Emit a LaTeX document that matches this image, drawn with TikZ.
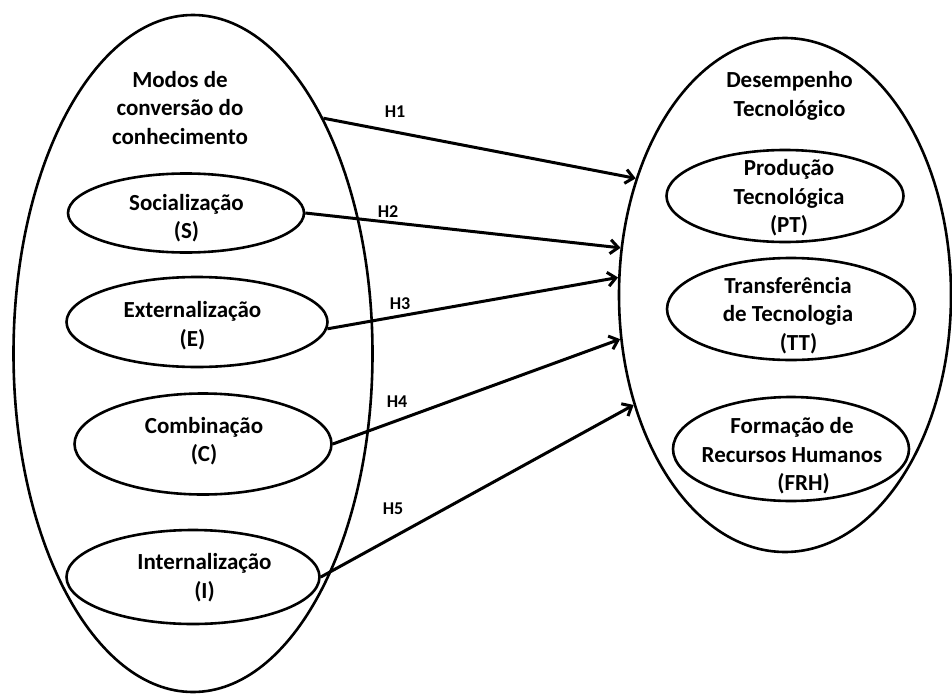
\documentclass[tikz,border=0pt]{standalone}
\usepackage{fontspec}
\setmainfont{Carlito}
\usetikzlibrary{shapes.geometric,arrows.meta}
\begin{document}
\begin{tikzpicture}[x=1pt,y=-1pt,
  oval/.style={ellipse,draw,line width=2.6pt,inner sep=0pt},
  txt/.style={align=center,font=\bfseries\fontsize{23}{28.5}\selectfont,inner sep=0pt},
  hyp/.style={font=\bfseries\fontsize{18}{20}\selectfont,inner sep=0pt},
  link/.style={line width=3pt,-{Straight Barb[length=8pt,width=14pt]}}]
\useasboundingbox (0,0) rectangle (952,693);
\node[oval,minimum width=359pt,minimum height=677pt] (L) at (193,353.5) {};
\node[oval,minimum width=332pt,minimum height=514pt] (R) at (785,295) {};
\node[oval,minimum width=236pt,minimum height=79pt] (S) at (186,213) {};
\node[oval,minimum width=261pt,minimum height=90pt] (E) at (197,322) {};
\node[oval,minimum width=257pt,minimum height=101pt] (C) at (203,444) {};
\node[oval,minimum width=253pt,minimum height=94pt] (I) at (193,577) {};
\node[oval,minimum width=237pt,minimum height=92pt] (PT) at (785,196) {};
\node[oval,minimum width=248pt,minimum height=102pt] (TT) at (791,309) {};
\node[oval,minimum width=236pt,minimum height=104pt] (FRH) at (791,449) {};
\node[txt] (tL) at (180,108) {Modos de\\conversão do\\conhecimento};
\node[txt] (tS) at (186.5,218) {Socialização\\(S)};
\node[txt] (tE) at (192.5,325.5) {Externalização\\(E)};
\node[txt] (tC) at (204,441) {Combinação\\(C)};
\node[txt] (tI) at (204.5,577.5) {Internalização\\(I)};
\node[txt] (tR) at (789.5,96) {Desempenho\\Tecnológico};
\node[txt] (tPT) at (789,198) {Produção\\Tecnológica\\(PT)};
\node[txt] (tTT) at (788,315.5) {Transferência\\de Tecnologia\\\hspace*{21pt}(TT)};
\node[txt] (tFRH) at (792,456) {Formação de\\Recursos Humanos\\\hspace*{23pt}(FRH)};
\draw[link] (L.61.6) -- (R.142);
\draw[link] (S.east) -- (R.164.1);
\draw[link] (E.-3) -- (R.174.2);
\draw[link] (C.east) -- (R.195);
\draw[link] (I.east) -- (R.216.4);
\node[hyp] (h1) at (395,112) {H1};
\node[hyp] (h2) at (388,212) {H2};
\node[hyp] (h3) at (400,304) {H3};
\node[hyp] (h4) at (397,402) {H4};
\node[hyp] (h5) at (393,509) {H5};
\end{tikzpicture}
\end{document}
